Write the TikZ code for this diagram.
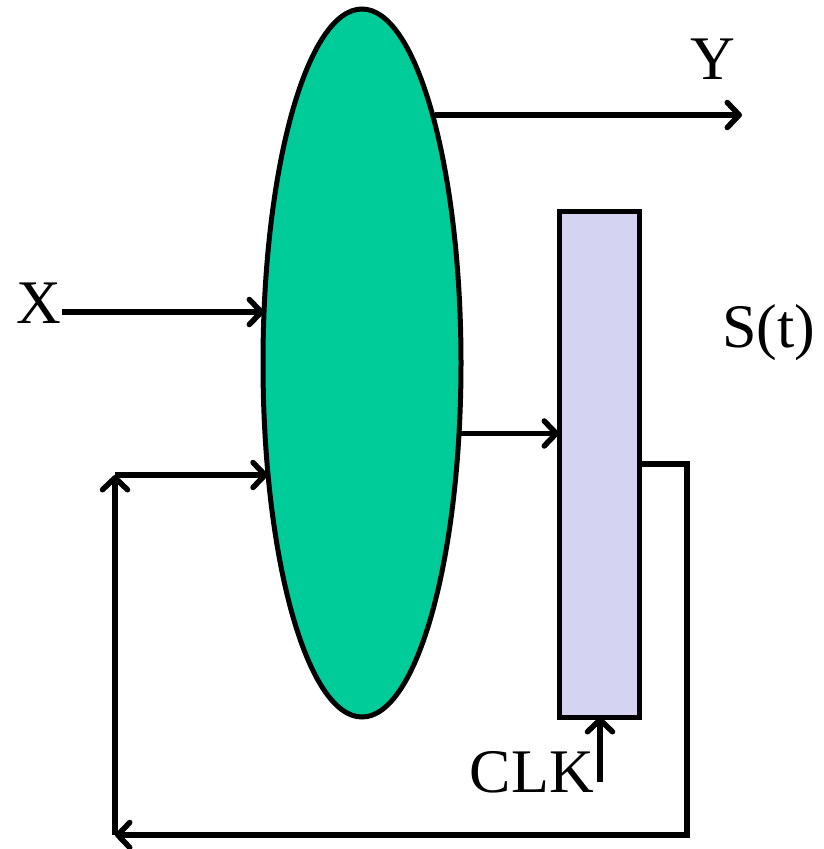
\documentclass[tikz,border=0pt]{standalone}
\usepackage{fontspec}
\setmainfont{Liberation Serif}
\usetikzlibrary{arrows.meta,shapes.geometric}
\definecolor{blobgreen}{RGB}{0,204,153}
\definecolor{reglav}{RGB}{212,212,242}
\begin{document}
\begin{tikzpicture}[x=1pt,y=-1pt,
  shapeline/.style={draw=black,line width=5pt,outer sep=0pt},
  arr/.style={line width=5.5pt,-{Straight Barb[length=12pt,width=25pt,round]}},
  lbl/.style={font=\fontsize{62}{62}\selectfont,inner sep=0pt,anchor=base}]
\useasboundingbox (0,0) rectangle (823,849);
\node[shapeline,ellipse,fill=blobgreen,minimum width=198pt,minimum height=708pt,inner sep=0pt] (E) at (362,363) {};
\node[shapeline,rectangle,fill=reglav,minimum width=80pt,minimum height=506pt,inner sep=0pt] (R) at (599,464) {};
\node[lbl] (Y) at (713,79) {Y};
\node[lbl] (X) at (39,323) {X};
\node[lbl] (S) at (769,347) {S(t)};
\node[lbl,anchor=base east] (CLK) at (594,792) {CLK};
\coordinate (yend) at (742,115);
\coordinate (xs) at (62,312);
\coordinate (c1) at (687,835);
\coordinate (c2) at (115,835);
\coordinate (c3) at (115,475);
\coordinate (clks) at (600,782);
\draw[arr] (E.73.9 |- yend) -- (yend);
\draw[arr] (xs) -- (E.152.7 |- xs);
\draw[arr] (E.-36.7) -- (R.west |- E.-36.7);
\draw[arr] (R.east) -| (c1) -- (c2);
\draw[arr] (c2) -- (c3);
\draw[arr] (c3) -- (E.229.7 |- c3);
\draw[arr] (clks) -- (R.south -| clks);
\end{tikzpicture}
\end{document}
